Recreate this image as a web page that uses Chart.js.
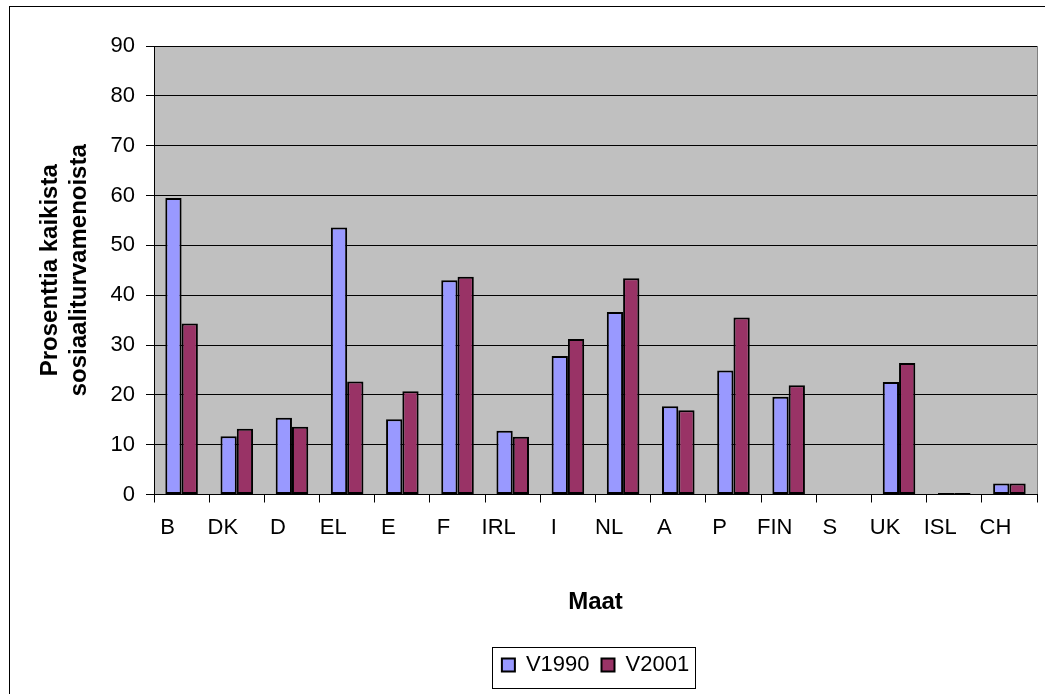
<!DOCTYPE html>
<html>
<head>
<meta charset="utf-8">
<script src="https://cdn.jsdelivr.net/npm/chart.js@4"></script>
<style>
  html, body { margin: 0; padding: 0; background: #fff; }
  #wrap { width: 1045px; height: 694px; }
</style>
</head>
<body>
<div id="wrap"><canvas id="c" width="1045" height="694"></canvas></div>
<script>
// Country codes along the category axis
const countries = ['B', 'DK', 'D', 'EL', 'E', 'F', 'IRL', 'I', 'NL', 'A', 'P', 'FIN', 'S', 'UK', 'ISL', 'CH'];
// Share of all social protection expenditure (%), 1990 and 2001
const v1990 = [59.5, 11.7, 15.4, 53.6, 15.1, 43.0, 12.8, 27.8, 36.6, 17.7, 24.9, 19.6, null, 22.6, 0.3, 2.2];
const v2001 = [34.3, 13.2, 13.6, 22.7, 20.7, 43.7, 11.6, 31.2, 43.4, 16.9, 35.5, 21.9, null, 26.4, 0.3, 2.2];
const seriesNames = ['V1990', 'V2001'];
const yTitle = ['Prosenttia kaikista', 'sosiaaliturvamenoista'];
const xTitle = 'Maat';

const FONT = '"Liberation Sans", Arial, sans-serif';

// Grey plot background, outer frame and a box around the legend
const framePlugin = {
  id: 'frame',
  beforeDraw(chart) {
    const { ctx, chartArea: a } = chart;
    ctx.save();
    ctx.fillStyle = '#ffffff';
    ctx.fillRect(0, 0, chart.width, chart.height);
    ctx.fillStyle = '#c0c0c0';
    ctx.fillRect(a.left, a.top, a.right - a.left, a.bottom - a.top);
    ctx.strokeStyle = '#808080';
    ctx.lineWidth = 1;
    ctx.beginPath();
    ctx.moveTo(Math.round(a.right) + 0.5, a.top);
    ctx.lineTo(Math.round(a.right) + 0.5, a.bottom);
    ctx.stroke();
    ctx.restore();
  },
  afterDraw(chart) {
    const { ctx } = chart;
    ctx.save();
    ctx.strokeStyle = '#000000';
    ctx.lineWidth = 1;
    ctx.strokeRect(9.5, 6.5, 3000, 3000);
    const boxes = chart.legend && chart.legend.legendHitBoxes;
    if (boxes && boxes.length) {
      const left = Math.min(...boxes.map(b => b.left));
      const right = Math.max(...boxes.map(b => b.left + b.width));
      const top = Math.min(...boxes.map(b => b.top));
      const bottom = Math.max(...boxes.map(b => b.top + b.height));
      const x0 = Math.round(left - 10) + 0.5;
      const x1 = Math.round(right + 6) + 0.5;
      const y0 = Math.round(top - 7) + 0.5;
      const y1 = Math.round(bottom + 12) + 0.5;
      ctx.strokeRect(x0, y0, x1 - x0, y1 - y0);
    }
    ctx.restore();
  }
};

new Chart(document.getElementById('c'), {
  type: 'bar',
  data: {
    labels: countries,
    datasets: [
      {
        label: seriesNames[0],
        data: v1990,
        backgroundColor: '#9999ff',
        borderColor: '#000000',
        borderWidth: 2,
        borderSkipped: false
      },
      {
        label: seriesNames[1],
        data: v2001,
        backgroundColor: '#993366',
        borderColor: '#000000',
        borderWidth: 2,
        borderSkipped: false
      }
    ]
  },
  options: {
    responsive: false,
    animation: false,
    events: [],
    categoryPercentage: 0.59,
    barPercentage: 1.0,
    layout: { padding: { left: 0, top: 46, right: 8, bottom: 8 } },
    plugins: {
      tooltip: { enabled: false },
      legend: {
        position: 'bottom',
        fullSize: false,
        labels: {
          color: '#000',
          font: { family: FONT, size: 22 },
          boxWidth: 13,
          boxHeight: 13,
          padding: 12
        }
      }
    },
    scales: {
      x: {
        grid: {
          display: true,
          drawOnChartArea: false,
          drawTicks: true,
          tickLength: 8,
          color: '#000',
          offset: true
        },
        border: { display: true, color: '#000', width: 1 },
        ticks: {
          color: '#000',
          font: { family: FONT, size: 22 },
          padding: 12,
          labelOffset: -14,
          maxRotation: 0,
          autoSkip: false
        },
        title: {
          display: true,
          text: xTitle,
          color: '#000',
          font: { family: FONT, size: 24, weight: 'bold' },
          padding: { top: 0, bottom: 25 }
        },
        afterFit(scale) { scale.height = 147.5; }
      },
      y: {
        min: 0,
        max: 90,
        grid: {
          color: '#000',
          lineWidth: 1,
          drawTicks: true,
          tickLength: 8
        },
        border: { display: true, color: '#000', width: 1 },
        ticks: {
          stepSize: 10,
          color: '#000',
          font: { family: FONT, size: 22 },
          padding: 11
        },
        title: {
          display: true,
          text: yTitle,
          color: '#000',
          font: { family: FONT, size: 24, weight: 'bold', lineHeight: 1.2 },
          padding: { top: 36, bottom: 0 }
        },
        afterFit(scale) { scale.width = 154; }
      }
    }
  },
  plugins: [framePlugin]
});
</script>
</body>
</html>
